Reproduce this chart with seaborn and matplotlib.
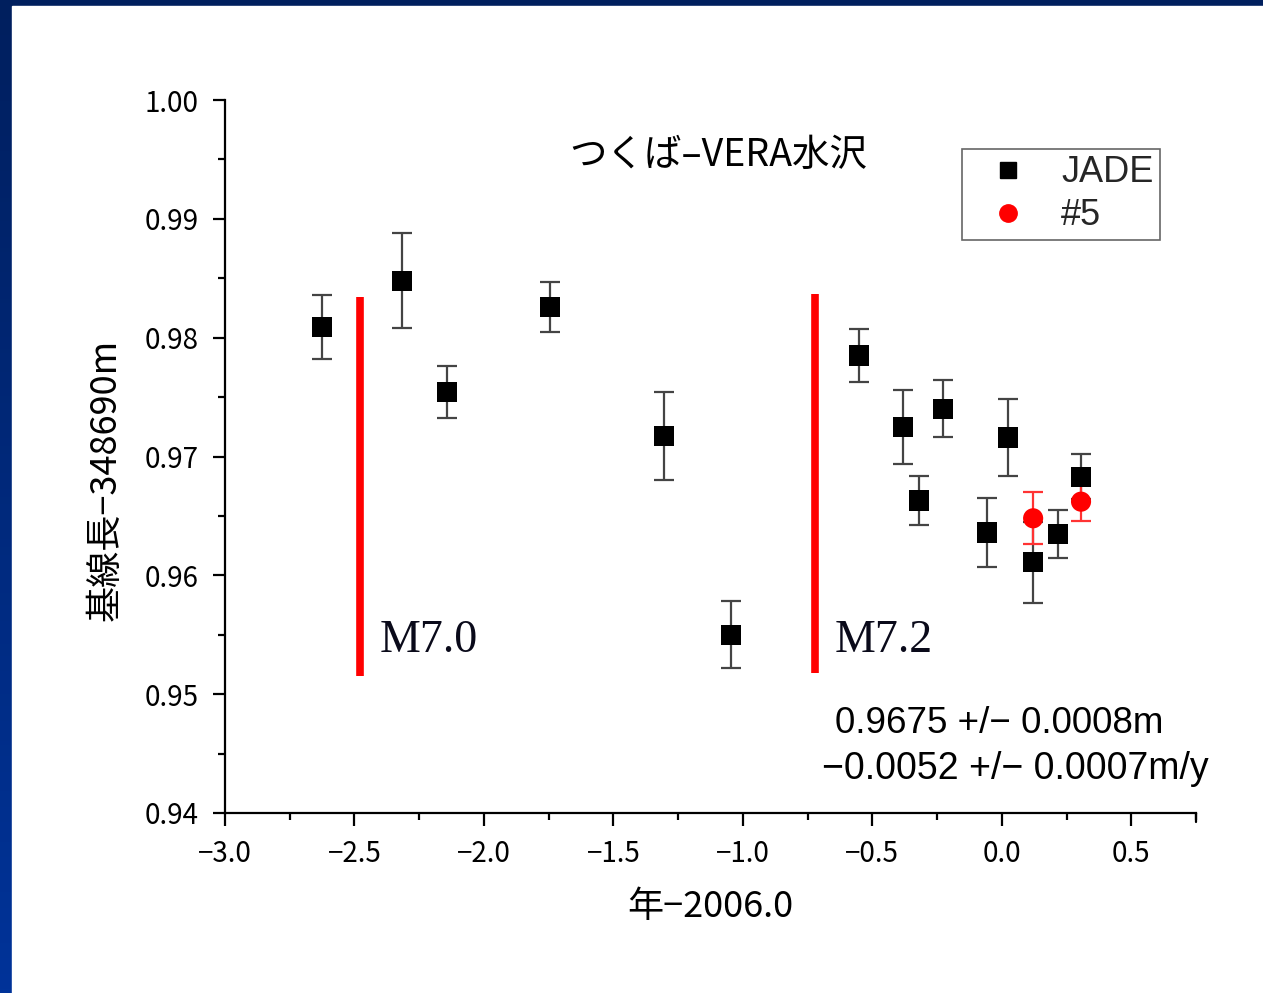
import numpy as np
import pandas as pd
import matplotlib
matplotlib.use("Agg")
import matplotlib.pyplot as plt
import seaborn as sns
from matplotlib.colors import LinearSegmentedColormap
from matplotlib.patches import Rectangle
from matplotlib.lines import Line2D

# ---- data ----
jade_x = [-2.625, -2.316, -2.143, -1.745, -1.304, -1.046, -0.551, -0.381,
          -0.319, -0.227, -0.057, 0.024, 0.121, 0.217, 0.306]
jade_y = [0.9809, 0.9848, 0.9754, 0.9826, 0.9717, 0.9550, 0.9785, 0.9725,
          0.9663, 0.9740, 0.9636, 0.9716, 0.9611, 0.9635, 0.9683]
jade_err = [0.0027, 0.0040, 0.0022, 0.0021, 0.0037, 0.0028, 0.0022, 0.0031,
            0.0021, 0.0024, 0.0029, 0.0032, 0.0034, 0.0020, 0.0019]
s5_x = [0.121, 0.306]
s5_y = [0.9648, 0.9662]
s5_err = [0.0022, 0.0016]
quake_x = [-2.479, -0.721]
quake_top = [0.9834, 0.9837]
quake_bottom = [0.9515, 0.9518]
quake_labels = ["M7.0", "M7.2"]
series_names = ["JADE", "#5"]
title_text = "つくば–VERA水沢"
xlabel_text = "年−2006.0"
ylabel_text = "基線長−348690m"
fit_lines = ["0.9675 +/− 0.0008m", "−0.0052 +/− 0.0007m/y"]

df = pd.DataFrame({
    "x": jade_x + s5_x,
    "y": jade_y + s5_y,
    "err": jade_err + s5_err,
    "series": [series_names[0]] * len(jade_x) + [series_names[1]] * len(s5_x),
})

sns.set_theme(style="ticks")
plt.rcParams['font.family'] = ['Noto Sans CJK JP', 'DejaVu Sans']

fig = plt.figure(figsize=(12.63, 9.93), dpi=100)

# background: blue frame with white slide area
bg = fig.add_axes([0, 0, 1, 1], zorder=-10)
cmap = LinearSegmentedColormap.from_list("bl", ["#003399", "#001f5e"])
bg.imshow(np.linspace(0, 1, 256).reshape(-1, 1), aspect="auto", cmap=cmap,
          extent=[0, 1, 0, 1], origin="lower")
bg.add_patch(Rectangle((12 / 1263, 0), 1, 1 - 6 / 993, color="white"))
bg.set_xlim(0, 1); bg.set_ylim(0, 1)
bg.axis("off")

ax = fig.add_axes([225 / 1263, 1 - 813 / 993, (1196 - 225) / 1263, (813 - 100) / 993])
ax.set_facecolor("none")

# error bars
for name, ecol in [(series_names[0], "#444444"), (series_names[1], "#ff3333")]:
    sub = df[df.series == name]
    ax.errorbar(sub.x, sub.y, yerr=sub.err, fmt="none", ecolor=ecol,
                elinewidth=1.6, capsize=7, capthick=1.6, zorder=2)

sns.scatterplot(data=df, x="x", y="y", hue="series", style="series",
                palette={series_names[0]: "black", series_names[1]: "red"},
                markers={series_names[0]: "s", series_names[1]: "o"},
                s=210, linewidth=0, ax=ax, zorder=3, legend=False)

# earthquake lines
for qx, qt, qb, lab in zip(quake_x, quake_top, quake_bottom, quake_labels):
    ax.vlines(qx, qb, qt, color="red", linewidth=5.5, zorder=1)
    ax.text(qx + 0.075, 0.9545, lab, fontsize=33, family=["Liberation Serif"],
            color="#0a0a1a", va="center", ha="left")

ax.set_xlim(-3.0, 0.75)
ax.set_ylim(0.94, 1.00)
ax.set_xticks([-3.0, -2.5, -2.0, -1.5, -1.0, -0.5, 0.0, 0.5])
ax.set_xticklabels(["−3.0", "−2.5", "−2.0", "−1.5", "−1.0", "−0.5", "0.0", "0.5"])
ax.set_xticks(np.arange(-2.75, 0.8, 0.5), minor=True)
ax.set_yticks([0.94, 0.95, 0.96, 0.97, 0.98, 0.99, 1.00])
ax.set_yticklabels(["0.94", "0.95", "0.96", "0.97", "0.98", "0.99", "1.00"])
ax.set_yticks(np.arange(0.945, 1.0, 0.01), minor=True)
ax.tick_params(axis="both", which="major", direction="out", length=9, width=1.6,
               labelsize=20, color="black", labelcolor="black", pad=10)
ax.tick_params(axis="both", which="minor", direction="out", length=5, width=1.6, color="black")
for sp in ["left", "bottom"]:
    ax.spines[sp].set_linewidth(1.6)
    ax.spines[sp].set_color("black")
ax.spines["top"].set_visible(False)
ax.spines["right"].set_visible(False)
# short tick at right end of x axis
ax.plot([1, 1], [0, -0.012], transform=ax.transAxes, color="black", lw=1.6, clip_on=False)

ax.set_xlabel(xlabel_text, fontsize=26, labelpad=14, color="black")
ax.set_ylabel(ylabel_text, fontsize=26, color="black")
ax.yaxis.set_label_coords(-0.104, 0.467)

ax.text(-1.095, 0.99537, title_text, fontsize=27, ha="center", va="center", color="black")

ax.text(-0.644, 0.9475, fit_lines[0], fontsize=26.5, ha="left", va="center", color="black",
        family=["Liberation Sans", "DejaVu Sans"])
ax.text(-0.694, 0.9437, fit_lines[1], fontsize=27, ha="left", va="center", color="black",
        family=["Liberation Sans", "DejaVu Sans"])

handles = [
    Line2D([], [], marker="s", color="black", linestyle="none", markersize=11),
    Line2D([], [], marker="o", color="red", linestyle="none", markersize=12.5),
]
leg = ax.legend(handles, series_names, loc="upper left",
                bbox_to_anchor=((962 - 225) / 971, 1 - (149 - 100) / 713),
                frameon=True, fancybox=False, edgecolor="#666666", framealpha=1,
                prop={"family": "Liberation Sans", "size": 26},
                handletextpad=0.36, borderpad=0.18, labelspacing=0.22,
                handlelength=2.2, borderaxespad=0)
leg.get_frame().set_linewidth(1.2)

fig.savefig("out.png", dpi=100)
